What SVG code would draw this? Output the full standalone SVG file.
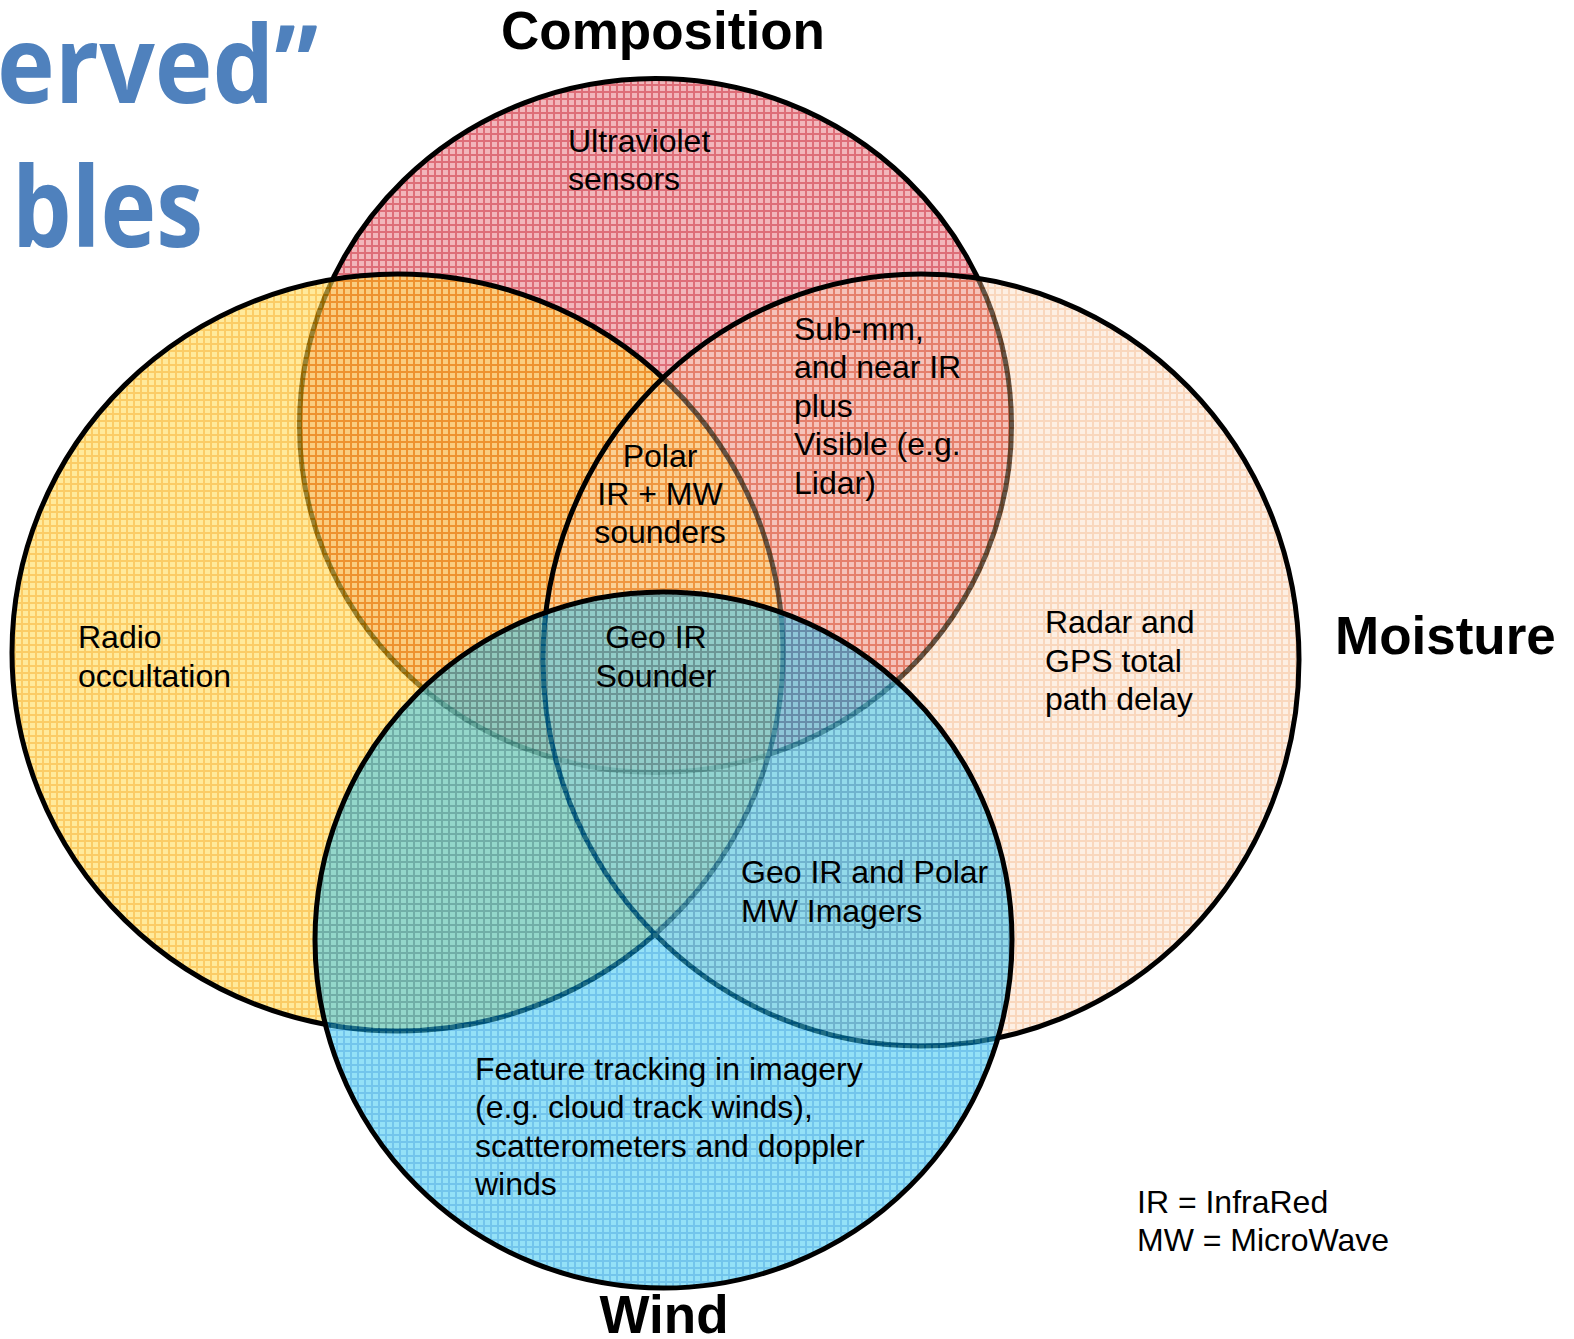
<svg xmlns="http://www.w3.org/2000/svg" width="1574" height="1339" viewBox="0 0 1574 1339">
  <defs>
    <pattern id="pRed" width="7" height="7" patternUnits="userSpaceOnUse">
      <rect width="7" height="7" fill="#f2b6bb"/>
      <rect width="2" height="7" fill="#de6e78"/>
      <rect width="7" height="2" fill="#de6e78"/>
    </pattern>
    <pattern id="pYellow" width="7" height="7" patternUnits="userSpaceOnUse">
      <rect width="7" height="7" fill="#ffdc5a"/>
      <rect width="2" height="7" fill="#f8aa00"/>
      <rect width="7" height="2" fill="#f8aa00"/>
    </pattern>
    <pattern id="pMoist" width="7" height="7" patternUnits="userSpaceOnUse">
      <rect width="7" height="7" fill="#fad7b9"/>
      <rect width="2" height="7" fill="#f09b5a"/>
      <rect width="7" height="2" fill="#f09b5a"/>
    </pattern>
    <pattern id="pWind" width="7" height="7" patternUnits="userSpaceOnUse">
      <rect width="7" height="7" fill="#3cc8f0"/>
      <rect width="2" height="7" fill="#0096dc"/>
      <rect width="7" height="2" fill="#0096dc"/>
    </pattern>
  </defs>
  <style>
    .circ { stroke: #000; stroke-width: 5; }
    .lbl { font-family: "Liberation Sans", Arial, sans-serif; font-size: 32px; fill: #000; }
    .ttl { font-family: "Liberation Sans", Arial, sans-serif; font-size: 53px; font-weight: bold; fill: #000; }
    .head { font-family: "Open Sans", "Noto Sans", sans-serif; font-weight: bold; fill: #4f81bd; }
  </style>
  <rect width="1574" height="1339" fill="#fff"/>

  <g id="title-fragment">
    <text class="head" x="-3" y="103" font-size="108" textLength="321" lengthAdjust="spacingAndGlyphs">erved”</text>
    <text class="head" x="12" y="247" font-size="112" textLength="191" lengthAdjust="spacingAndGlyphs">bles</text>
  </g>

  <g id="composition">
    <ellipse class="circ" cx="655.5" cy="425.5" rx="356" ry="347" fill="url(#pRed)"/>
    <text class="ttl" x="663" y="49" text-anchor="middle">Composition</text>
  </g>
  <g id="temperature">
    <ellipse class="circ" cx="397.5" cy="652.5" rx="385.5" ry="378.5" fill="url(#pYellow)" fill-opacity="0.6"/>
  </g>
  <g id="moisture">
    <ellipse class="circ" cx="921" cy="660" rx="378" ry="386" fill="url(#pMoist)" fill-opacity="0.4"/>
    <text class="ttl" x="1335" y="654">Moisture</text>
  </g>
  <g id="wind">
    <ellipse class="circ" cx="663.5" cy="940" rx="348.5" ry="348" fill="url(#pWind)" fill-opacity="0.55"/>
    <text class="ttl" x="664" y="1333" text-anchor="middle">Wind</text>
  </g>

  <g id="region-ultraviolet">
    <text class="lbl" x="568" y="152">Ultraviolet</text>
    <text class="lbl" x="568" y="190">sensors</text>
  </g>
  <g id="region-submm">
    <text class="lbl" x="794" y="340">Sub-mm,</text>
    <text class="lbl" x="794" y="378">and near IR</text>
    <text class="lbl" x="794" y="417">plus</text>
    <text class="lbl" x="794" y="455">Visible (e.g.</text>
    <text class="lbl" x="794" y="494">Lidar)</text>
  </g>
  <g id="region-polar" text-anchor="middle">
    <text class="lbl" x="660" y="467">Polar</text>
    <text class="lbl" x="660" y="505">IR + MW</text>
    <text class="lbl" x="660" y="543">sounders</text>
  </g>
  <g id="region-geo-sounder" text-anchor="middle">
    <text class="lbl" x="656" y="648">Geo IR</text>
    <text class="lbl" x="656" y="687">Sounder</text>
  </g>
  <g id="region-radio">
    <text class="lbl" x="78" y="648">Radio</text>
    <text class="lbl" x="78" y="687">occultation</text>
  </g>
  <g id="region-radar">
    <text class="lbl" x="1045" y="633">Radar and</text>
    <text class="lbl" x="1045" y="672">GPS total</text>
    <text class="lbl" x="1045" y="710">path delay</text>
  </g>
  <g id="region-imagers">
    <text class="lbl" x="741" y="883">Geo IR and Polar</text>
    <text class="lbl" x="741" y="922">MW Imagers</text>
  </g>
  <g id="region-feature">
    <text class="lbl" x="475" y="1080">Feature tracking in imagery</text>
    <text class="lbl" x="475" y="1118">(e.g. cloud track winds),</text>
    <text class="lbl" x="475" y="1157">scatterometers and doppler</text>
    <text class="lbl" x="475" y="1195">winds</text>
  </g>
  <g id="legend">
    <text class="lbl" x="1137" y="1213">IR = InfraRed</text>
    <text class="lbl" x="1137" y="1251">MW = MicroWave</text>
  </g>
</svg>
